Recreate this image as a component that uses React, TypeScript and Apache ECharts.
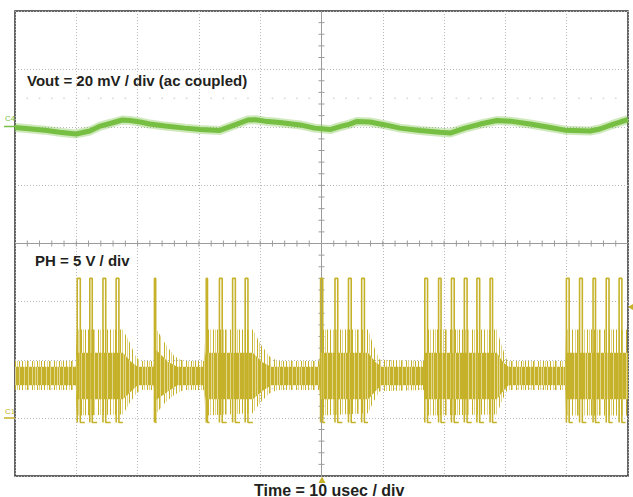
import { useEffect, useRef } from 'react';
import * as echarts from 'echarts';

// Time base: 10 divisions of 10 usec
const timeMin = 0;
const timeMax = 100;
const timeStep = 10;

// Vout channel (C4), 20 mV/div, ac coupled: [time usec, mV]
const voutTrace: [number, number][] = [
  [0, -0.1], [4.9, -1.0], [7.3, -1.7], [9.95, -2.3], [12.2, -1.3], [13.9, 0.4],
  [15.5, 1.3], [17.5, 2.5], [18.8, 2.3], [20.4, 1.8], [22.0, 1.1], [24.5, 0.4],
  [27.7, -0.3], [30.2, -0.8], [33.4, -1.1], [36.2, 1.1], [38.0, 2.5], [39.2, 2.6],
  [40.8, 2.1], [43.2, 1.6], [46.5, 0.8], [48.9, -0.3], [51.4, -0.8], [53.0, 0.2],
  [54.6, 1.1], [55.8, 2.0], [57.9, 1.8], [60.4, 0.8], [62.8, -0.3], [66.1, -1.1],
  [69.3, -1.7], [71.0, -2.0], [73.4, -0.3], [75.9, 1.1], [78.6, 2.3], [80.8, 2.1],
  [84.0, 1.1], [87.3, -0.1], [89.7, -1.0], [93.8, -1.3], [95.4, -0.6], [97.4, 0.9],
  [98.7, 1.8], [100, 2.6],
];

// PH channel (C1), 5 V/div: switching pulses [rise, fall, end of low], usec
const phPulses: [number, number, number][] = [
  [10.15, 10.65, 11.4], [12.2, 12.6, 13.4], [14.35, 14.8, 15.6], [16.5, 16.95, 17.6],
  [22.75, 22.95, 23.1],
  [31.2, 31.4, 31.75], [33.35, 33.8, 34.55], [35.5, 35.95, 36.7], [37.55, 38.0, 38.8],
  [49.85, 50.2, 50.6], [52.2, 52.65, 53.4], [54.4, 54.85, 55.6], [56.55, 57.0, 57.6],
  [66.85, 67.3, 67.9], [69.1, 69.5, 70.2], [71.2, 71.65, 72.4], [73.3, 73.75, 74.5],
  [75.35, 75.8, 76.5], [77.5, 77.9, 78.6],
  [89.95, 90.4, 91.0], [92.1, 92.55, 93.2], [94.3, 94.7, 95.4], [96.45, 96.9, 97.5],
  [98.55, 99.0, 99.6],
];
const phHigh = 12.0; // V, switch on
const phLow = -0.4; // V, low-side conduction

// PH ringing envelope (outer peaks), [time usec, V]
const phEnvHigh: [number, number][] = [
  [0, 4.9], [9.9, 4.9], [10.1, 7.6], [17.6, 7.6], [18.6, 6.6], [19.8, 5.2], [20.5, 4.9],
  [22.6, 4.9], [22.9, 7.8], [24.5, 6.4], [26.0, 5.3], [27.5, 4.9], [30.8, 4.9],
  [31.1, 7.6], [38.8, 7.6], [40.0, 6.4], [41.5, 5.3], [42.8, 4.9], [49.6, 4.9],
  [49.8, 7.6], [57.6, 7.6], [58.5, 6.2], [59.5, 5.0], [66.7, 4.9], [66.8, 7.6],
  [78.6, 7.6], [79.4, 6.2], [80.3, 4.9], [89.8, 4.9], [89.9, 7.6], [100, 7.6],
];
const phEnvLow: [number, number][] = [
  [0, 2.4], [9.9, 2.4], [10.1, 0.2], [17.6, 0.3], [18.6, 1.2], [19.8, 2.1], [20.5, 2.4],
  [22.6, 2.4], [22.9, 0.3], [24.5, 1.3], [26.0, 2.0], [27.5, 2.4], [30.8, 2.4],
  [31.1, 0.2], [38.8, 0.4], [40.0, 1.3], [41.5, 2.1], [42.8, 2.4], [49.6, 2.4],
  [49.8, 0.2], [57.6, 0.4], [58.5, 1.4], [59.5, 2.3], [66.7, 2.4], [66.8, 0.2],
  [78.6, 0.3], [79.4, 1.4], [80.3, 2.4], [89.8, 2.4], [89.9, 0.2], [100, 0.2],
];
// PH dense core of the ringing, [time usec, V]
const phCoreHigh: [number, number][] = [
  [0, 4.4], [9.9, 4.4], [10.1, 5.6], [17.6, 5.6], [18.8, 4.9], [20.0, 4.4],
  [22.6, 4.4], [22.9, 5.9], [25.0, 4.8], [26.5, 4.4], [30.8, 4.4],
  [31.1, 5.6], [38.8, 5.6], [40.3, 4.8], [41.8, 4.4], [49.6, 4.4],
  [49.8, 5.6], [57.6, 5.6], [58.8, 4.8], [59.8, 4.4], [66.7, 4.4], [66.8, 5.6],
  [78.6, 5.6], [79.6, 4.8], [80.5, 4.4], [89.8, 4.4], [89.9, 5.6], [100, 5.6],
];
const phCoreLow: [number, number][] = [
  [0, 2.8], [9.9, 2.8], [10.1, 1.6], [17.6, 1.6], [18.8, 2.2], [20.0, 2.8],
  [22.6, 2.8], [22.9, 1.5], [25.0, 2.3], [26.5, 2.8], [30.8, 2.8],
  [31.1, 1.6], [38.8, 1.6], [40.3, 2.3], [41.8, 2.8], [49.6, 2.8],
  [49.8, 1.6], [57.6, 1.6], [58.8, 2.3], [59.8, 2.8], [66.7, 2.8], [66.8, 1.6],
  [78.6, 1.6], [79.6, 2.3], [80.5, 2.8], [89.8, 2.8], [89.9, 1.6], [100, 1.6],
];

// Vertical scales: 8 divisions each
const voutMin = -120, voutMax = 40, voutStep = 20; // mV
const phMin = -5, phMax = 35, phStep = 5; // V

const GREEN = '#76bf42';
const YELLOW = '#c6b22a';
const YELLOW_PALE = '#e2d68c';
const GRID_DOT = '#b8b8b8';
const FONT = '"Liberation Sans", Arial, sans-serif';

// Column masks for the dense vertical-stroke look of the ringing ('1' = trace column, '2' = faint column)
const STROKES_DENSE = '1121112111211212111211';
const STROKES_SPARSE = '1002012000102001020100';

function strokePattern(mask: string) {
  const cv = document.createElement('canvas');
  cv.width = mask.length;
  cv.height = 4;
  const ctx = cv.getContext('2d')!;
  for (let i = 0; i < mask.length; i++) {
    if (mask[i] === '1') ctx.fillStyle = YELLOW;
    else if (mask[i] === '2') ctx.fillStyle = YELLOW_PALE;
    else continue;
    ctx.fillRect(i, 0, 1, 4);
  }
  return { image: cv.toDataURL(), repeat: 'repeat', imageWidth: cv.width, imageHeight: cv.height };
}

export default function App() {
  const ref = useRef<HTMLDivElement>(null);

  useEffect(() => {
    document.body.style.margin = '0';
    const chart = echarts.init(ref.current!, null, { renderer: 'svg' });

    const pulseLine: any[] = [];
    phPulses.forEach(([r, f, e]) => {
      pulseLine.push([r, phLow], [r, phHigh], [f, phHigh], [f, phLow], [e, phLow], [e, '-']);
    });

    const band = (hi: [number, number][], lo: [number, number][], fill: any, z: number) => ({
      type: 'custom',
      xAxisIndex: 0,
      yAxisIndex: 1,
      silent: true,
      clip: true,
      data: [0],
      z,
      renderItem: (_p: any, api: any) => {
        const pts = [...hi, ...lo.slice().reverse()].map((p) => api.coord(p));
        return { type: 'polygon', shape: { points: pts }, style: { fill } };
      },
    });

    const phMid = (phMin + phMax) / 2;
    const tMid = (timeMin + timeMax) / 2;

    const option: any = {
      animation: false,
      backgroundColor: '#ffffff',
      grid: {
        left: 15, right: 5, top: 11, bottom: 21,
        show: true, borderColor: '#333333', borderWidth: 1.5, backgroundColor: 'transparent',
      },
      xAxis: [{
        type: 'value', min: timeMin, max: timeMax, interval: timeStep,
        axisLine: { show: false }, axisTick: { show: false }, axisLabel: { show: false },
        splitLine: { show: true, lineStyle: { color: GRID_DOT, width: 1, type: [1, 2] } },
      }],
      yAxis: [
        {
          type: 'value', min: voutMin, max: voutMax, interval: voutStep,
          axisLine: { show: false }, axisTick: { show: false }, axisLabel: { show: false },
          splitLine: { show: true, lineStyle: { color: GRID_DOT, width: 1, type: [1, 2] } },
        },
        {
          type: 'value', min: phMin, max: phMax, interval: phStep,
          axisLine: { show: false }, axisTick: { show: false }, axisLabel: { show: false },
          splitLine: { show: false },
        },
      ],
      series: [
        {
          // centre cross-hair with minor ticks, plus the half-division tick rows
          type: 'custom', xAxisIndex: 0, yAxisIndex: 1, silent: true, data: [0], z: 1,
          renderItem: (_p: any, api: any) => {
            const children: any[] = [];
            const stroke = { stroke: '#9c9c9c', lineWidth: 1 };
            const a = api.coord([tMid, phMax]);
            const b = api.coord([tMid, phMin]);
            children.push({ type: 'line', shape: { x1: a[0], y1: a[1], x2: b[0], y2: b[1] }, style: stroke });
            const c = api.coord([timeMin, phMid]);
            const d = api.coord([timeMax, phMid]);
            children.push({ type: 'line', shape: { x1: c[0], y1: c[1], x2: d[0], y2: d[1] }, style: stroke });
            for (let t = timeMin + 2; t < timeMax; t += 2) {
              const p = api.coord([t, phMid]);
              children.push({ type: 'line', shape: { x1: p[0], y1: p[1] - 3, x2: p[0], y2: p[1] + 3 }, style: stroke });
              for (const lv of [phMid + 2.5 * phStep, phMid - 2.5 * phStep]) {
                const q = api.coord([t, lv]);
                children.push({ type: 'line', shape: { x1: q[0] - 0.8, y1: q[1], x2: q[0] + 0.8, y2: q[1] }, style: { stroke: '#c4c4c4', lineWidth: 1 } });
              }
            }
            for (let v = phMin + 1; v < phMax; v += 1) {
              const p = api.coord([tMid, v]);
              children.push({ type: 'line', shape: { x1: p[0] - 3, y1: p[1], x2: p[0] + 3, y2: p[1] }, style: stroke });
            }
            return { type: 'group', children };
          },
        },
        band(phEnvHigh, phEnvLow, strokePattern(STROKES_SPARSE), 3),
        band(phCoreHigh, phCoreLow, strokePattern(STROKES_DENSE), 3),
        {
          type: 'line', xAxisIndex: 0, yAxisIndex: 1, data: pulseLine, showSymbol: false,
          connectNulls: false, z: 4,
          lineStyle: { color: YELLOW, width: 1.6 },
        },
        {
          type: 'line', xAxisIndex: 0, yAxisIndex: 0, data: voutTrace, showSymbol: false, z: 5,
          lineStyle: { color: GREEN, width: 9, opacity: 0.35 },
        },
        {
          type: 'line', xAxisIndex: 0, yAxisIndex: 0, data: voutTrace, showSymbol: false, z: 6,
          lineStyle: { color: GREEN, width: 5 },
        },
      ],
      graphic: [
        {
          type: 'text', left: 27, top: 73, z: 20,
          style: { text: 'Vout = 20 mV / div (ac coupled)', font: `bold 15px ${FONT}`, fill: '#231f20' },
        },
        {
          type: 'text', left: 35, top: 253, z: 20,
          style: { text: 'PH = 5 V / div', font: `bold 15px ${FONT}`, fill: '#231f20' },
        },
        {
          type: 'text', left: 254, top: 482, z: 20,
          style: { text: 'Time = 10 usec / div', font: `bold 16px ${FONT}`, fill: '#231f20' },
        },
        {
          type: 'text', left: 5, top: 114, z: 20,
          style: { text: 'C4', font: `8px ${FONT}`, fill: GREEN },
        },
        { type: 'line', shape: { x1: 4, y1: 126.5, x2: 15, y2: 126.5 }, style: { stroke: GREEN, lineWidth: 1.5 }, z: 20 },
        {
          type: 'text', left: 5, top: 407, z: 20,
          style: { text: 'C1', font: `8px ${FONT}`, fill: YELLOW },
        },
        { type: 'line', shape: { x1: 4, y1: 418, x2: 15, y2: 418 }, style: { stroke: YELLOW, lineWidth: 1.5 }, z: 20 },
        { type: 'polygon', shape: { points: [[628, 307], [633, 304], [633, 310]] }, style: { fill: YELLOW }, z: 20 },
        { type: 'polygon', shape: { points: [[322, 476.5], [318.5, 483], [325.5, 483]] }, style: { fill: YELLOW }, z: 20 },
      ],
    };

    chart.setOption(option);
    return () => chart.dispose();
  }, []);

  return <div ref={ref} style={{ width: 633, height: 497 }} />;
}
